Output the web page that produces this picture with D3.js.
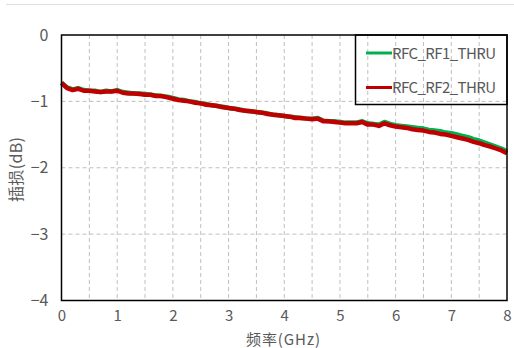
<!DOCTYPE html>
<html>
<head>
<meta charset="utf-8">
<script src="https://cdn.jsdelivr.net/npm/d3@7"></script>
<style>
  body { margin: 0; background: #fff; }
  svg { display: block; }
</style>
</head>
<body>
<svg id="chart" width="514" height="348"></svg>
<script>
// frequency points (GHz)
const freq = [
  0.0, 0.1, 0.2, 0.3, 0.4, 0.5, 0.6, 0.7, 0.8, 0.9,
  1.0, 1.1, 1.2, 1.3, 1.4, 1.5, 1.6, 1.7, 1.8, 1.9,
  2.0, 2.1, 2.2, 2.3, 2.4, 2.5, 2.6, 2.7, 2.8, 2.9,
  3.0, 3.1, 3.2, 3.3, 3.4, 3.5, 3.6, 3.7, 3.8, 3.9,
  4.0, 4.1, 4.2, 4.3, 4.4, 4.5, 4.6, 4.7, 4.8, 4.9,
  5.0, 5.1, 5.2, 5.3, 5.4, 5.5, 5.6, 5.7, 5.8, 5.9,
  6.0, 6.1, 6.2, 6.3, 6.4, 6.5, 6.6, 6.7, 6.8, 6.9,
  7.0, 7.1, 7.2, 7.3, 7.4, 7.5, 7.6, 7.7, 7.8, 7.9,
  8.0
];

// insertion loss (dB)
const rf1 = [
  -0.72, -0.79, -0.82, -0.80, -0.83, -0.84, -0.84, -0.86, -0.84, -0.85,
  -0.83, -0.86, -0.87, -0.88, -0.88, -0.89, -0.90, -0.91, -0.92, -0.93,
  -0.95, -0.97, -0.98, -1.00, -1.01, -1.03, -1.04, -1.06, -1.07, -1.08,
  -1.10, -1.11, -1.12, -1.14, -1.15, -1.16, -1.17, -1.18, -1.20, -1.21,
  -1.22, -1.23, -1.24, -1.25, -1.26, -1.26, -1.25, -1.29, -1.30, -1.30,
  -1.31, -1.32, -1.32, -1.32, -1.30, -1.33, -1.34, -1.35, -1.31, -1.34,
  -1.36, -1.37, -1.38, -1.39, -1.40, -1.41, -1.43, -1.44, -1.45, -1.47,
  -1.48, -1.50, -1.52, -1.54, -1.57, -1.59, -1.62, -1.65, -1.68, -1.71,
  -1.75
];

const rf2 = [
  -0.72, -0.80, -0.83, -0.81, -0.84, -0.84, -0.85, -0.86, -0.85, -0.85,
  -0.84, -0.87, -0.88, -0.88, -0.89, -0.90, -0.90, -0.92, -0.92, -0.94,
  -0.96, -0.98, -0.99, -1.00, -1.02, -1.03, -1.05, -1.06, -1.07, -1.09,
  -1.10, -1.11, -1.13, -1.14, -1.15, -1.16, -1.17, -1.19, -1.20, -1.21,
  -1.22, -1.23, -1.25, -1.25, -1.26, -1.27, -1.26, -1.30, -1.30, -1.31,
  -1.32, -1.33, -1.33, -1.33, -1.31, -1.35, -1.35, -1.37, -1.33, -1.36,
  -1.38, -1.39, -1.40, -1.42, -1.43, -1.44, -1.46, -1.47, -1.49, -1.50,
  -1.52, -1.54, -1.56, -1.58, -1.61, -1.63, -1.66, -1.68, -1.71, -1.74,
  -1.78
];

const seriesNames = ["RFC_RF1_THRU", "RFC_RF2_THRU"];
const seriesColors = ["#00b050", "#c00000"];
const xTicks = [0, 1, 2, 3, 4, 5, 6, 7, 8];
const xGrid = [0.5, 1, 1.5, 2, 2.5, 3, 3.5, 4, 4.5, 5, 5.5, 6, 6.5, 7, 7.5];
const yTicks = [0, -1, -2, -3, -4];

const svg = d3.select("#chart"),
      plotLeft = 61.5,
      plotRight = 507,
      plotTop = 35,
      plotBottom = 300.5,
      textColor = "#595959",
      font = "'Noto Sans CJK SC', 'Noto Sans', sans-serif";

const x = d3.scaleLinear().domain([0, 8]).range([plotLeft, plotRight]);
const y = d3.scaleLinear().domain([-4, 0]).range([plotBottom, plotTop]);

// faint line along the top of the frame
svg.append("line")
  .attr("x1", 6).attr("x2", 514)
  .attr("y1", 4.5).attr("y2", 4.5)
  .attr("stroke", "#e0e0e0")
  .attr("stroke-width", 1);

// grid
svg.append("g").selectAll("line").data(xGrid).join("line")
  .attr("x1", d => x(d)).attr("x2", d => x(d))
  .attr("y1", plotTop).attr("y2", plotBottom)
  .attr("stroke", "#bfbfbf")
  .attr("stroke-dasharray", "4,3");

svg.append("g").selectAll("line").data([-1, -2, -3]).join("line")
  .attr("x1", plotLeft).attr("x2", plotRight)
  .attr("y1", d => y(d)).attr("y2", d => y(d))
  .attr("stroke", "#bfbfbf")
  .attr("stroke-dasharray", "4,3");

// series
const line = d3.line()
  .x((d, i) => x(freq[i]))
  .y(d => y(d));

[rf1, rf2].forEach((vals, k) => {
  svg.append("path")
    .datum(vals)
    .attr("d", line)
    .attr("fill", "none")
    .attr("stroke", seriesColors[k])
    .attr("stroke-width", 4.5)
    .attr("stroke-linejoin", "round")
    .attr("stroke-linecap", "butt");
});

// plot border
svg.append("rect")
  .attr("x", plotLeft).attr("y", plotTop)
  .attr("width", plotRight - plotLeft).attr("height", plotBottom - plotTop)
  .attr("fill", "none")
  .attr("stroke", "#000")
  .attr("stroke-width", 1.5);

// axes labels (ticks drawn as text only)
const xAxis = d3.axisBottom(x).tickValues(xTicks).tickSize(0).tickPadding(10).tickFormat(d3.format("d"));
const gx = svg.append("g").attr("transform", `translate(0,${plotBottom})`).call(xAxis);
gx.select(".domain").remove();
gx.selectAll("text").attr("fill", textColor).style("font", `15px ${font}`);

const yAxis = d3.axisLeft(y).tickValues(yTicks).tickSize(0).tickPadding(13).tickFormat(d3.format("d"));
const gy = svg.append("g").attr("transform", `translate(${plotLeft},0)`).call(yAxis);
gy.select(".domain").remove();
gy.selectAll("text").attr("fill", textColor).style("font", `16px ${font}`);

svg.append("text")
  .attr("x", 246).attr("y", 345)
  .attr("fill", textColor)
  .attr("textLength", 74)
  .style("font", `15px ${font}`)
  .text("频率(GHz)");

svg.append("text")
  .attr("transform", "translate(22,202) rotate(-90)")
  .attr("fill", textColor)
  .attr("textLength", 65)
  .style("font", `16px ${font}`)
  .text("插损(dB)");

// legend
const legend = svg.append("g");
legend.append("rect")
  .attr("x", 355.5).attr("y", plotTop)
  .attr("width", plotRight - 355.5).attr("height", 69.5)
  .attr("fill", "none")
  .attr("stroke", "#000")
  .attr("stroke-width", 1.5);

seriesNames.forEach((name, k) => {
  const ly = 53 + k * 34.5;
  legend.append("line")
    .attr("x1", 366).attr("x2", 392)
    .attr("y1", ly).attr("y2", ly)
    .attr("stroke", seriesColors[k])
    .attr("stroke-width", 3);
  legend.append("text")
    .attr("x", 392).attr("y", ly + 5.5)
    .attr("fill", textColor)
    .attr("textLength", 104)
    .style("font", `15px ${font}`)
    .text(name);
});
</script>
</body>
</html>
